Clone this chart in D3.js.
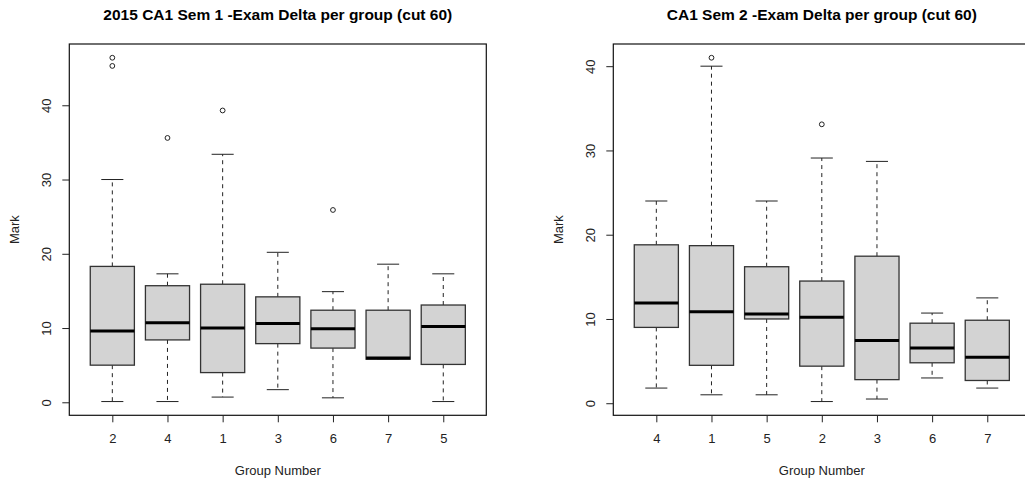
<!DOCTYPE html>
<html>
<head>
<meta charset="utf-8">
<script src="https://cdn.jsdelivr.net/npm/d3@7"></script>
<style>
  html, body { margin: 0; padding: 0; background: #fff; }
  svg { display: block; font-family: "Liberation Sans", Arial, sans-serif; }
</style>
</head>
<body>
<svg id="chart" width="1025" height="484"></svg>
<script>
// ---------- Panel 1 data ----------
const title1 = "2015 CA1 Sem 1 -Exam Delta per group (cut 60)";
const groups1 = ["2", "4", "1", "3", "6", "7", "5"];
const whiskerLow1 = [0.1, 0.1, 0.7, 1.7, 0.6, 5.8, 0.1];
const q1_1 = [5.0, 8.4, 4.0, 7.9, 7.3, 5.8, 5.1];
const median1 = [9.6, 10.7, 10.0, 10.6, 9.9, 5.95, 10.2];
const q3_1 = [18.3, 15.7, 15.9, 14.2, 12.4, 12.4, 13.1];
const whiskerHigh1 = [30.0, 17.3, 33.4, 20.2, 14.9, 18.6, 17.3];
const outlierGroups1 = ["2", "2", "4", "1", "6"];
const outlierValues1 = [46.4, 45.3, 35.6, 39.3, 25.9];

// ---------- Panel 2 data ----------
const title2 = "CA1 Sem 2 -Exam Delta per group (cut 60)";
const groups2 = ["4", "1", "5", "2", "3", "6", "7"];
const whiskerLow2 = [1.8, 1.0, 1.0, 0.2, 0.5, 3.0, 1.8];
const q1_2 = [9.0, 4.5, 10.0, 4.4, 2.8, 4.8, 2.7];
const median2 = [11.9, 10.85, 10.6, 10.2, 7.45, 6.55, 5.45];
const q3_2 = [18.8, 18.7, 16.2, 14.5, 17.45, 9.5, 9.85];
const whiskerHigh2 = [24.0, 40.0, 24.0, 29.1, 28.7, 10.7, 12.5];
const outlierGroups2 = ["1", "2"];
const outlierValues2 = [41.0, 33.1];

const yTicks = [0, 10, 20, 30, 40];
const xLabel = "Group Number";
const yLabel = "Mark";

const svg = d3.select("#chart");
const textColor = "#222";

function drawPanel(cfg) {
  const left = cfg.left, right = cfg.right, top = 44, bottom = 415.3;
  const n = cfg.groups.length;
  const allVals = cfg.wLow.concat(cfg.wHigh, cfg.outVals);
  const lo = d3.min(allVals), hi = d3.max(allVals);
  const pad = (hi - lo) * 0.04;
  const y = d3.scaleLinear().domain([lo - pad, hi + pad]).range([bottom, top]);
  const xPad = (n) * 0.04;
  const x = d3.scaleLinear().domain([0.5 - xPad, n + 0.5 + xPad]).range([left, right]);
  const idx = g => cfg.groups.indexOf(g) + 1;
  const boxW = x(0.8) - x(0);
  const capW = x(0.4) - x(0);

  const g = svg.append("g");

  // boxes
  cfg.groups.forEach((grp, i) => {
    const cx = x(i + 1);
    // whiskers dashed
    g.append("line").attr("x1", cx).attr("x2", cx)
      .attr("y1", y(cfg.q3[i])).attr("y2", y(cfg.wHigh[i]))
      .attr("stroke", "#222").attr("stroke-width", 1).attr("stroke-dasharray", "4,4");
    g.append("line").attr("x1", cx).attr("x2", cx)
      .attr("y1", y(cfg.q1[i])).attr("y2", y(cfg.wLow[i]))
      .attr("stroke", "#222").attr("stroke-width", 1).attr("stroke-dasharray", "4,4");
    // caps
    g.append("line").attr("x1", cx - capW / 2).attr("x2", cx + capW / 2)
      .attr("y1", y(cfg.wHigh[i])).attr("y2", y(cfg.wHigh[i]))
      .attr("stroke", "#222").attr("stroke-width", 1);
    g.append("line").attr("x1", cx - capW / 2).attr("x2", cx + capW / 2)
      .attr("y1", y(cfg.wLow[i])).attr("y2", y(cfg.wLow[i]))
      .attr("stroke", "#222").attr("stroke-width", 1);
    // box
    g.append("rect").attr("x", cx - boxW / 2).attr("width", boxW)
      .attr("y", y(cfg.q3[i])).attr("height", y(cfg.q1[i]) - y(cfg.q3[i]))
      .attr("fill", "#d3d3d3").attr("stroke", "#333").attr("stroke-width", 1.3);
    // median
    g.append("line").attr("x1", cx - boxW / 2).attr("x2", cx + boxW / 2)
      .attr("y1", y(cfg.med[i])).attr("y2", y(cfg.med[i]))
      .attr("stroke", "#000").attr("stroke-width", 3);
  });

  // outliers
  cfg.outGroups.forEach((grp, j) => {
    g.append("circle").attr("cx", x(idx(grp))).attr("cy", y(cfg.outVals[j]))
      .attr("r", 2.4).attr("fill", "none").attr("stroke", "#222").attr("stroke-width", 1);
  });

  // frame
  g.append("rect").attr("x", left).attr("y", top)
    .attr("width", right - left).attr("height", bottom - top)
    .attr("fill", "none").attr("stroke", "#111").attr("stroke-width", 1.2);

  // y axis
  const ya = g.append("g").attr("transform", `translate(${left},0)`)
    .call(d3.axisLeft(y).tickValues(yTicks).tickSize(7).tickFormat(d3.format("d")));
  ya.select(".domain").remove();
  ya.selectAll(".tick line").attr("stroke", "#222");
  ya.selectAll(".tick text")
    .attr("transform", "rotate(-90)")
    .attr("x", 0).attr("y", -18).attr("dy", 0)
    .attr("text-anchor", "middle")
    .attr("fill", textColor).style("font-size", "13px")
    .style("font-family", "'Liberation Sans', Arial, sans-serif");

  // x axis
  const xa = g.append("g").attr("transform", `translate(0,${bottom})`)
    .call(d3.axisBottom(x).tickValues(d3.range(1, n + 1)).tickSize(7)
      .tickFormat(d => cfg.groups[d - 1]));
  xa.select(".domain").remove();
  xa.selectAll(".tick line").attr("stroke", "#222");
  xa.selectAll(".tick text")
    .attr("y", 28).attr("dy", 0)
    .attr("fill", textColor).style("font-size", "13px")
    .style("font-family", "'Liberation Sans', Arial, sans-serif");

  const cxPlot = (left + right) / 2;
  // title
  g.append("text").attr("x", cxPlot).attr("y", 20)
    .attr("text-anchor", "middle").attr("font-weight", "bold")
    .style("font-size", "15.5px").attr("fill", "#000").text(cfg.title);
  // x label
  g.append("text").attr("x", cxPlot).attr("y", 474.5)
    .attr("text-anchor", "middle").style("font-size", "13px")
    .attr("fill", textColor).text(xLabel);
  // y label
  g.append("text")
    .attr("transform", `translate(${left - 50},${(top + bottom) / 2}) rotate(-90)`)
    .attr("text-anchor", "middle").style("font-size", "13px")
    .attr("fill", textColor).text(yLabel);
}

drawPanel({
  left: 69.3, right: 486.3, title: title1, groups: groups1,
  wLow: whiskerLow1, q1: q1_1, med: median1, q3: q3_1, wHigh: whiskerHigh1,
  outGroups: outlierGroups1, outVals: outlierValues1
});
drawPanel({
  left: 613.3, right: 1030.3, title: title2, groups: groups2,
  wLow: whiskerLow2, q1: q1_2, med: median2, q3: q3_2, wHigh: whiskerHigh2,
  outGroups: outlierGroups2, outVals: outlierValues2
});
</script>
</body>
</html>
